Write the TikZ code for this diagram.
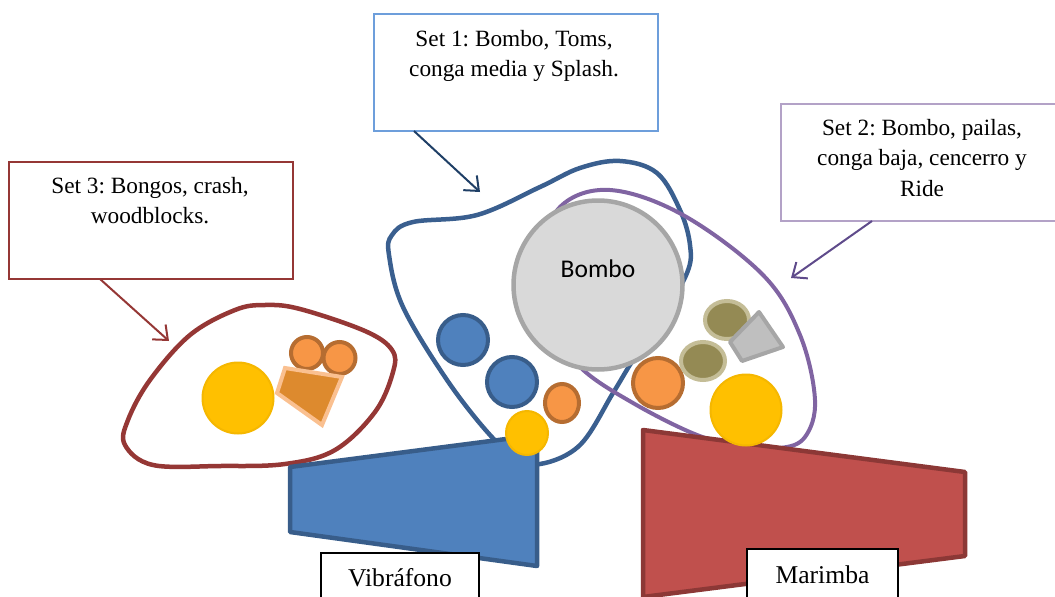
\documentclass[tikz,border=0pt]{standalone}
\usepackage{fontspec}
\setmainfont{Liberation Serif}
\newfontfamily\carl{Carlito}
\usetikzlibrary{arrows.meta}
\frenchspacing
\definecolor{bluef}{HTML}{4F81BD}
\definecolor{blued}{HTML}{385D8A}
\definecolor{redf}{HTML}{C0504D}
\definecolor{redd}{HTML}{8C3836}
\definecolor{orf}{HTML}{F79646}
\definecolor{ord}{HTML}{B66D31}
\definecolor{yelf}{HTML}{FFC000}
\definecolor{yeld}{HTML}{F5B700}
\definecolor{olf}{HTML}{948A54}
\definecolor{old}{HTML}{C4BD97}
\definecolor{grf}{HTML}{BFBFBF}
\definecolor{grd}{HTML}{A6A6A6}
\definecolor{bomf}{HTML}{D9D9D9}
\definecolor{wbf}{HTML}{DD8A2E}
\definecolor{wbd}{HTML}{FAC090}
\definecolor{s1c}{HTML}{6D9EDB}
\definecolor{s3c}{HTML}{953735}
\definecolor{s2c}{HTML}{B3A2C7}
\definecolor{a1c}{HTML}{1F3F66}
\definecolor{a2c}{HTML}{5F4B8B}
\definecolor{blobr}{HTML}{953735}
\definecolor{blobb}{HTML}{3A5F8F}
\definecolor{blobp}{HTML}{8064A2}
\tikzset{
  setbox/.style={draw, line width=1.5pt, fill=white, inner sep=0pt, anchor=north west},
  settext/.style={font=\fontsize{23.3}{30.5}\selectfont, align=center, anchor=north, inner sep=0pt},
  callout/.style={line width=2pt, -{Straight Barb[length=12pt,width=20pt,line width=2pt]}},
  blob/.style={line width=4.5pt, line join=round},
  lblbox/.style={draw=black, line width=2pt, fill=white, anchor=north, inner xsep=0pt,
     text height=17pt, text depth=14pt, font=\fontsize{25.6}{30}\selectfont},
  instr/.style={line width=4.5pt, line join=round},
  drum/.style={line width=4pt},
}
\begin{document}
\begin{tikzpicture}[x=1pt,y=-1pt]
\useasboundingbox (0,0) rectangle (1055,597);
% callout boxes
\node[setbox, draw=s1c, minimum width=284pt, minimum height=117pt] (s1box) at (373,13) {};
\node[settext] (s1txt) at (514,30) {Set 1: Bombo, Toms,\\conga media y Splash.};
\node[setbox, draw=s3c, minimum width=284pt, minimum height=117pt] (s3box) at (8,161) {};
\node[settext] (s3txt) at (150,177) {Set 3: Bongos, crash,\\woodblocks.};
\node[setbox, draw=s2c, minimum width=290pt, minimum height=117pt] (s2box) at (780,103) {};
\node[settext] (s2txt) at (922,119) {Set 2: Bombo, pailas,\\conga baja, cencerro y\\Ride};
% arrows
\coordinate (a1s) at (414,131); \coordinate (a1e) at (480,192);
\coordinate (a3s) at (100,279); \coordinate (a3e) at (169,341);
\coordinate (a2s) at (872,221); \coordinate (a2e) at (791,278);
\draw[callout, a1c] (a1s) -- (a1e);
\draw[callout, s3c] (a3s) -- (a3e);
\draw[callout, a2c] (a2s) -- (a2e);
% set blobs
\draw[blob, blobr] plot[smooth cycle, tension=0.6] coordinates {
 (153,465) (125,445) (128,420) (150,380) (190,335) (235,310) (265,305) (300,309)
 (365,331) (392,350) (393,372) (375,412) (335,450) (285,464) (220,466)};
\draw[blob, blobb] plot[smooth cycle, tension=0.6] coordinates {
 (540,464) (580,445) (613,393) (633,360) (660,320) (687,273) (690,245) (680,210)
 (657,173) (620,161) (580,168) (540,187) (477,215) (413,222) (392,235) (389,255)
 (403,307) (447,380) (490,435) (515,455)};
\draw[line width=4pt, blobp] plot[smooth cycle, tension=0.6] coordinates {
 (697,435) (633,403) (580,367) (548,320) (540,260) (560,207) (610,190) (683,215)
 (763,275) (800,335) (815,400) (805,437) (780,448) (740,445)};
% instruments
\draw[instr, fill=bluef, draw=blued] (290,467) -- (537,435) -- (537,566) -- (290,532) -- cycle;
\draw[instr, fill=redf, draw=redd] (643,430) -- (965,472) -- (965,556) -- (643,597) -- cycle;
% set 3 contents
\draw[line width=2pt, fill=yelf, draw=yeld] (238,398) circle[radius=35.5];
\draw[drum, fill=orf, draw=ord] (307,353) circle[radius=16];
\draw[drum, fill=orf, draw=ord] (339.5,358) circle[radius=16];
\draw[line width=4pt, line join=miter, fill=wbf, draw=wbd] (285,368) -- (342,377) -- (322,425) -- (277,393) -- cycle;
% set 1 contents
\draw[drum, fill=bluef, draw=blued] (463,340) circle[radius=25];
\draw[drum, fill=bluef, draw=blued] (512,382) circle[radius=25];
\draw[drum, fill=orf, draw=ord] (562,403) ellipse[x radius=17, y radius=19];
\draw[line width=2pt, fill=yelf, draw=yeld] (527,433) ellipse[x radius=21, y radius=22];
\node[circle, draw=grd, fill=bomf, line width=4.5pt, minimum size=169pt, inner sep=0pt] (bombo) at (598,285) {};
\node[anchor=base, inner sep=0pt, font=\carl\fontsize{25.5}{30}\selectfont] (bombotxt) at (598,277) {Bombo};
% set 2 contents
\draw[drum, fill=orf, draw=ord] (658,383) circle[radius=25];
\draw[drum, fill=olf, draw=old] (727,320) ellipse[x radius=22, y radius=19];
\draw[drum, fill=olf, draw=old] (703,361) ellipse[x radius=22, y radius=19];
\draw[line width=4pt, line join=round, fill=grf, draw=grd] (759,312) -- (783,347) -- (742,361) -- (730,342) -- cycle;
\draw[line width=2pt, fill=yelf, draw=yeld] (746,410) circle[radius=35.5];
% labels
\node[lblbox, minimum width=158pt, inner ysep=16pt] (vib) at (400,552) {Vibráfono};
\node[lblbox, minimum width=151pt, inner ysep=17pt] (mar) at (822.5,548) {Marimba};
\end{tikzpicture}
\end{document}
